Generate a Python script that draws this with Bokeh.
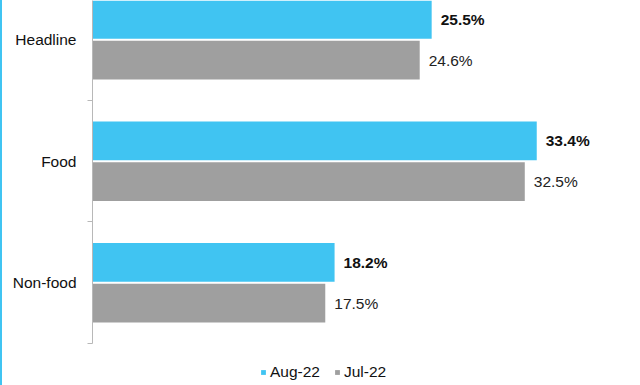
from bokeh.plotting import figure
from bokeh.models import ColumnDataSource, Range1d, FixedTicker, Legend, LegendItem, LabelSet
from bokeh.core.properties import value
from bokeh.embed import file_html
from bokeh.resources import INLINE

categories = ["Headline", "Food", "Non-food"]
aug22 = [25.5, 33.4, 18.2]
jul22 = [24.6, 32.5, 17.5]
series_names = ["Aug-22", "Jul-22"]

BLUE = "#40C4F2"
GRAY = "#9F9F9F"
FONT = "Liberation Sans"

n = len(categories)
centers = [n - 1 - i + 0.5 for i in range(n)]
off = 0.168
bar_h = 0.32
y_top = 2.823
y_bottom = -0.3457

src_a = ColumnDataSource(dict(y=[c + off for c in centers], x=aug22,
                              lab=[f"{v:.1f}%" for v in aug22]))
src_j = ColumnDataSource(dict(y=[c - off for c in centers], x=jul22,
                              lab=[f"{v:.1f}%" for v in jul22]))

p = figure(width=638, height=385, output_backend="svg", toolbar_location=None,
           x_range=Range1d(0, 41.2), y_range=Range1d(y_bottom, y_top),
           min_border_left=90, min_border_right=0, min_border_top=0, min_border_bottom=0)
p.styles = {"border-left": "2px solid #40C4F2"}
p.outline_line_color = None
p.xgrid.visible = False
p.ygrid.visible = False
p.xaxis.visible = False

r_a = p.hbar(y="y", right="x", left=0, height=bar_h, source=src_a, color=BLUE, line_color=None)
r_j = p.hbar(y="y", right="x", left=0, height=bar_h, source=src_j, color=GRAY, line_color=None)

p.add_layout(LabelSet(x="x", y="y", text="lab", source=src_a, x_offset=9, y_offset=0,
                      text_baseline="middle", text_font=value(FONT), text_font_size=value("15.5px"),
                      text_font_style=value("bold"), text_color=value("#111111")))
p.add_layout(LabelSet(x="x", y="y", text="lab", source=src_j, x_offset=9, y_offset=0,
                      text_baseline="middle", text_font=value(FONT), text_font_size=value("15.5px"),
                      text_color=value("#222222")))

ya = p.yaxis[0]
ya.ticker = FixedTicker(ticks=centers, minor_ticks=[float(i) for i in range(n + 1)])
ya.major_label_overrides = {c: cat for c, cat in zip(centers, categories)}
ya.bounds = (0, y_top)
ya.major_tick_out = 0
ya.major_tick_in = 0
ya.minor_tick_out = 5
ya.minor_tick_in = 0
ya.minor_tick_line_color = "#B8B8B8"
ya.axis_line_color = "#B8B8B8"
ya.axis_line_width = 1
ya.major_label_standoff = 11
ya.major_label_text_font = FONT
ya.major_label_text_font_size = "15.5px"
ya.major_label_text_color = "#111111"

legend = Legend(items=[LegendItem(label=series_names[0], renderers=[r_a]),
                       LegendItem(label=series_names[1], renderers=[r_j])],
                orientation="horizontal", location=(168, 4),
                glyph_width=6, glyph_height=6, label_standoff=4, spacing=14,
                label_text_font=FONT, label_text_font_size="15.5px",
                label_text_color="#111111", border_line_color=None,
                background_fill_alpha=0, padding=2, margin=0)
p.add_layout(legend)

open("out.html", "w").write(file_html(p, INLINE))
